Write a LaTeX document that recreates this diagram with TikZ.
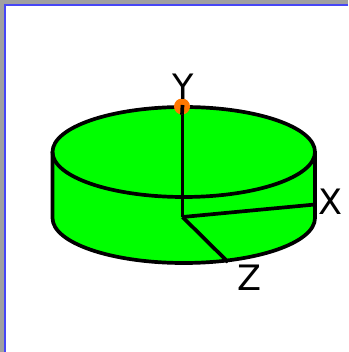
\documentclass[tikz,border=0pt]{standalone}
\usepackage{fontspec}
\setmainfont{DejaVu Sans}
\definecolor{discgreen}{RGB}{0,255,0}
\definecolor{framegray}{RGB}{160,160,160}
\definecolor{frameblue}{RGB}{70,70,245}
\definecolor{dotorange}{RGB}{255,120,0}
\tikzset{
  outline/.style={draw=black,line width=3.7pt,line join=round,line cap=round},
  axisline/.style={draw=black,line width=3.7pt,line cap=butt},
  axislabel/.style={font=\fontsize{35}{35}\selectfont,text=black,inner sep=0pt,anchor=center},
}
\begin{document}
\begin{tikzpicture}[x=1pt,y=-1pt]
\useasboundingbox (0,0) rectangle (348,352);
% window frame
\fill[framegray] (0,0) rectangle (348,352);
\fill[white] (6,6) rectangle (348,352);
\draw[frameblue,line width=1.8pt] (348,4.7) -- (4.9,4.7) -- (4.9,352);
% disc
\coordinate (tl) at (52.5,152);
\coordinate (tr) at (315,152);
\coordinate (bl) at (52.5,218);
\coordinate (br) at (315,218);
\coordinate (origin) at (182.5,217);
\coordinate (xend) at (315,204.5);
\coordinate (zend) at (228,262);
\coordinate (ytop) at (182.5,97);
\fill[discgreen] (tl) -- (bl) arc[start angle=180,end angle=360,x radius=131.25,y radius=-45] -- (tr) arc[start angle=0,end angle=180,x radius=131.25,y radius=-45] -- cycle;
\draw[outline] (tl) -- (bl) arc[start angle=180,end angle=360,x radius=131.25,y radius=-45] -- (tr);
\draw[outline] (183.75,152) ellipse[x radius=131.25,y radius=45];
% axes
\draw[axisline] (origin) -- (ytop);
\draw[axisline] (origin) -- (xend);
\draw[axisline] (origin) -- (zend);
% top marker
\node[circle,fill=dotorange,minimum size=16pt,inner sep=0pt] (marker) at (182,106.5) {};
\draw[black,line width=3.7pt] (182.5,105) -- (marker.south);
% labels
\node[axislabel] (ylabel) at (183,87) {Y};
\node[axislabel] (xlabel) at (330.5,202) {X};
\node[axislabel] (zlabel) at (249.5,278) {Z};
\end{tikzpicture}
\end{document}
